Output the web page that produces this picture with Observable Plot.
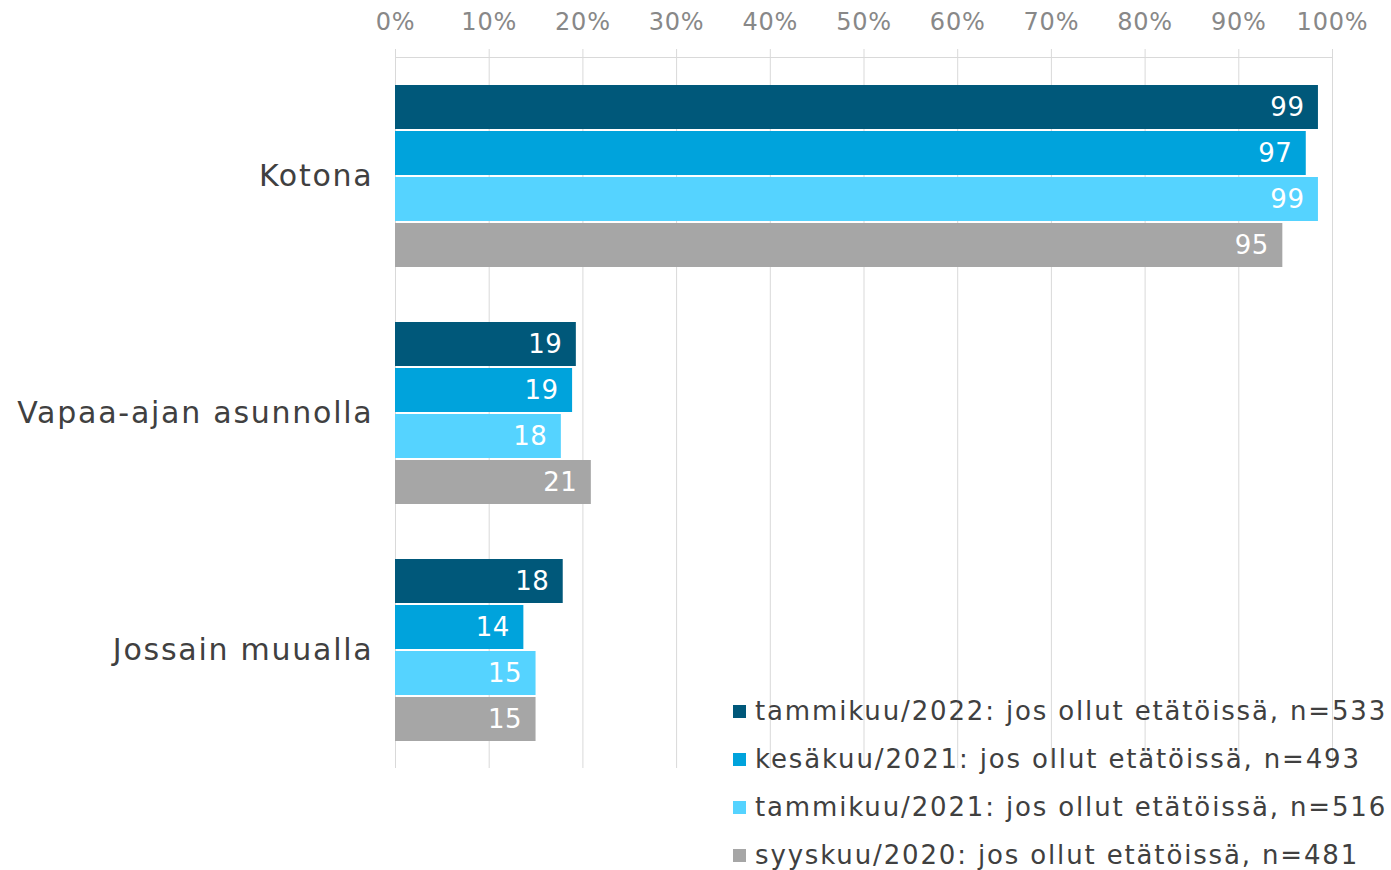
<!DOCTYPE html>
<html>
<head>
<meta charset="utf-8">
<script src="https://cdn.jsdelivr.net/npm/d3@7"></script>
<script src="https://cdn.jsdelivr.net/npm/@observablehq/plot@0.6"></script>
<style>
  html, body { margin: 0; padding: 0; background: #fff; }
  #wrap { position: relative; width: 1391px; height: 870px; font-family: "DejaVu Sans", Verdana, sans-serif; }
  #legend { position: absolute; left: 733px; top: 687px; }
  .row { display: flex; align-items: center; height: 48px; font-size: 26px; letter-spacing: 1.85px; color: #404040; white-space: nowrap; }
  .sw { width: 13px; height: 13px; margin-right: 9px; flex: none; }
  g[aria-label="fy-axis tick label"] text { letter-spacing: 1.75px; }
  g[aria-label="x-axis tick label"] text { letter-spacing: 0.8px; }
  g[aria-label="text"] text { letter-spacing: 0.5px; }
</style>
</head>
<body>
<div id="wrap"></div>
<script>
const categories = ["Kotona", "Vapaa-ajan asunnolla", "Jossain muualla"];
const series = [
  "tammikuu/2022: jos ollut etätöissä, n=533",
  "kesäkuu/2021: jos ollut etätöissä, n=493",
  "tammikuu/2021: jos ollut etätöissä, n=516",
  "syyskuu/2020: jos ollut etätöissä, n=481"
];
const colors = ["#00587a", "#00a3dc", "#55d3ff", "#a6a6a6"];
// values per series, in category order
const tammi2022 = [98.5, 19.3, 17.9];
const kesa2021 = [97.2, 18.9, 13.7];
const tammi2021 = [98.5, 17.7, 15.0];
const syys2020 = [94.7, 20.9, 15.0];
const xTicks = [0, 10, 20, 30, 40, 50, 60, 70, 80, 90, 100];

const seriesValues = [tammi2022, kesa2021, tammi2021, syys2020];
const data = [];
categories.forEach((c, i) => {
  series.forEach((s, j) => data.push({cat: c, series: s, value: seriesValues[j][i]}));
});

const chart = Plot.plot({
  width: 1391,
  height: 870,
  marginTop: 57,
  marginLeft: 395,
  marginRight: 59,
  marginBottom: 102,
  style: {fontFamily: "DejaVu Sans, Verdana, sans-serif", background: "#fff"},
  x: {domain: [0, 100]},
  y: {domain: series, paddingInner: 0.045, paddingOuter: 0.55, axis: null},
  fy: {domain: categories, padding: 0},
  color: {domain: series, range: colors},
  marks: [
    Plot.gridX(xTicks, {stroke: "#d9d9d9", strokeOpacity: 1}),
    Plot.axisX(xTicks, {anchor: "top", tickSize: 9, tickPadding: 19, tickFormat: d => d + "%", fontSize: 24, stroke: "#d9d9d9", fill: "#888", label: null}),
    Plot.frame({anchor: "top", stroke: "#d9d9d9", facetAnchor: "top"}),
    Plot.axisFy({anchor: "left", tickSize: 0, tickPadding: 22, fontSize: 30, fill: "#404040", label: null}),
    Plot.barX(data, {x: "value", y: "series", fy: "cat", fill: "series"}),
    Plot.text(data, {x: "value", y: "series", fy: "cat", text: d => String(Math.round(d.value)), textAnchor: "end", dx: -14, fill: "white", fontSize: 26})
  ]
});

const wrap = document.getElementById("wrap");
wrap.appendChild(chart);
const legend = document.createElement("div");
legend.id = "legend";
series.forEach((s, j) => {
  const row = document.createElement("div");
  row.className = "row";
  const sw = document.createElement("span");
  sw.className = "sw";
  sw.style.background = colors[j];
  const t = document.createElement("span");
  t.textContent = s;
  row.appendChild(sw);
  row.appendChild(t);
  legend.appendChild(row);
});
wrap.appendChild(legend);
</script>
</body>
</html>
